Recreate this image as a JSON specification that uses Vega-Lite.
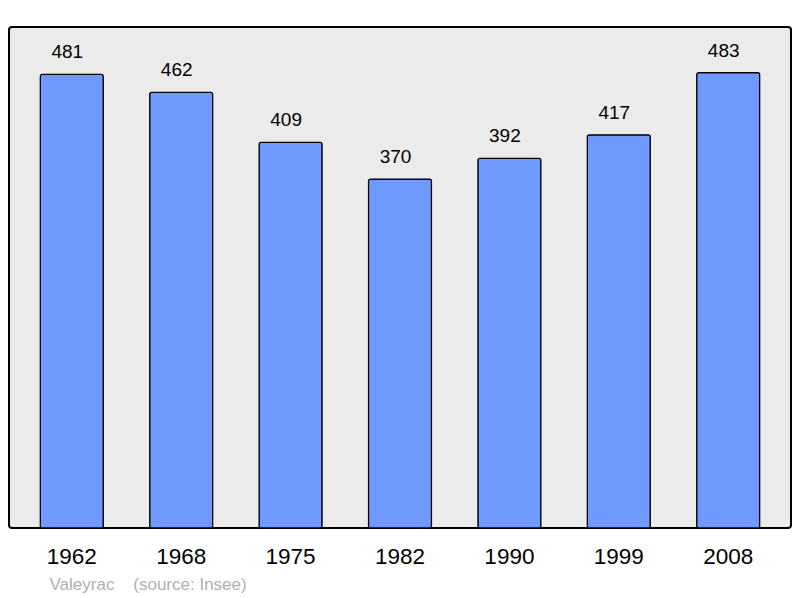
{
  "$schema": "https://vega.github.io/schema/vega-lite/v6.json",
  "autosize": "none",
  "width": 782,
  "height": 501,
  "padding": {"left": 9, "top": 27, "right": 9, "bottom": 70},
  "background": "white",
  "config": {
    "font": "Liberation Sans",
    "view": {"fill": "#ebebeb", "stroke": "#000000", "strokeWidth": 2, "cornerRadius": 3}
  },
  "data": {
    "values": [
      {"year": "1962", "pop": 481},
      {"year": "1968", "pop": 462},
      {"year": "1975", "pop": 409},
      {"year": "1982", "pop": 370},
      {"year": "1990", "pop": 392},
      {"year": "1999", "pop": 417},
      {"year": "2008", "pop": 483}
    ]
  },
  "encoding": {
    "x": {
      "field": "year",
      "type": "ordinal",
      "sort": null,
      "scale": {"paddingInner": 0.424, "paddingOuter": 0.286},
      "axis": {
        "labelAngle": 0,
        "labelFontSize": 22.5,
        "labelColor": "#000000",
        "labelPadding": 17,
        "ticks": false,
        "domain": false,
        "title": "Valeyrac\u00a0\u00a0\u00a0\u00a0(source: Insee)",
        "titleFontSize": 17,
        "titleFontWeight": "normal",
        "titleColor": "#b0b0b0",
        "titleAlign": "left",
        "titleAnchor": "start",
        "titleX": 40,
        "titleY": 56,
        "titleBaseline": "middle"
      }
    },
    "y": {
      "field": "pop",
      "type": "quantitative",
      "scale": {"domain": [0, 531.3], "nice": false, "zero": true},
      "axis": null
    }
  },
  "layer": [
    {
      "mark": {"type": "bar", "fill": "#7099ff", "stroke": "#000000", "strokeWidth": 1.2, "cornerRadius": 2}
    },
    {
      "mark": {"type": "text", "baseline": "bottom", "dy": -12, "dx": -4.5, "fontSize": 19, "color": "#000000"},
      "encoding": {"text": {"field": "pop", "type": "quantitative"}}
    }
  ]
}
